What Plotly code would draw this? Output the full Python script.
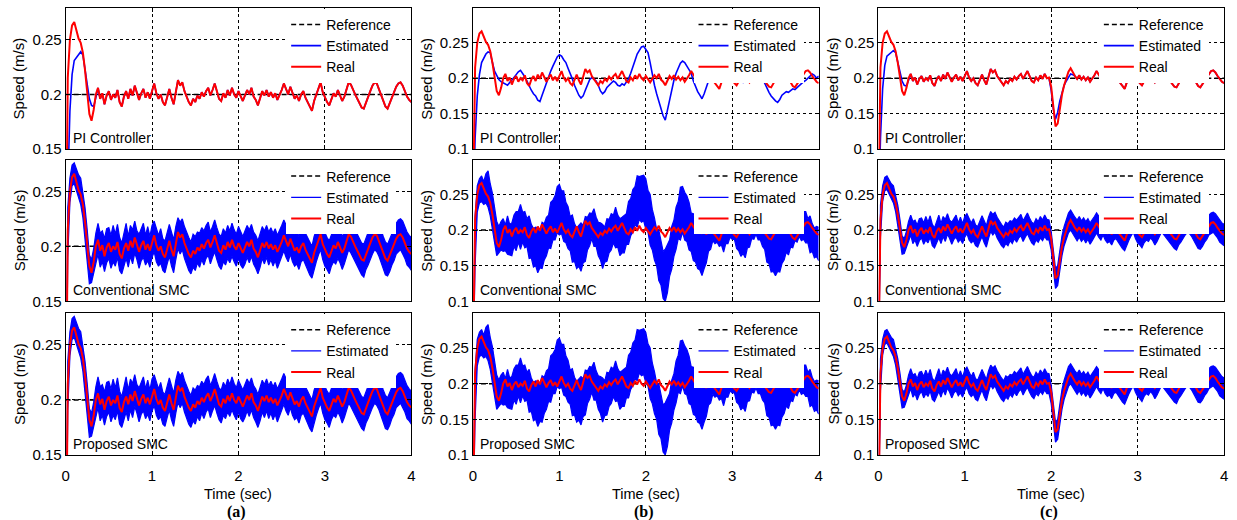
import plotly.graph_objects as go

# ---------------- data ----------------
TIME = [round(0.025 * i, 3) for i in range(161)]
REF_TIME = [0.0, 4.0]
REF_SPEED = [0.2, 0.2]
X_TICKS = [0, 1, 2, 3, 4]
Y_TICKS_A = [0.15, 0.2, 0.25]
Y_LABELS_A = ["0.15", "0.2", "0.25"]
Y_TICKS_BC = [0.1, 0.15, 0.2, 0.25]
Y_LABELS_BC = ["0.1", "0.15", "0.2", "0.25"]
ROW_LABELS = ["PI Controller", "Conventional SMC", "Proposed SMC"]
COL_LABELS = ["(a)", "(b)", "(c)"]
SERIES_NAMES = ["Reference", "Estimated", "Real"]

REAL_SPEED = [
    0.000, 0.215, 0.250, 0.263, 0.266, 0.258, 0.251, 0.247, 0.238, 0.222, 0.203, 0.182, 0.176, 0.186, 0.200,
    0.206, 0.196, 0.201, 0.191, 0.199, 0.203, 0.195, 0.200, 0.197, 0.204,
    0.193, 0.189, 0.198, 0.203, 0.196, 0.205, 0.199, 0.208, 0.202, 0.195,
    0.201, 0.205, 0.197, 0.202, 0.196, 0.204, 0.210, 0.201, 0.196, 0.200,
    0.193, 0.190, 0.198, 0.205, 0.197, 0.191, 0.202, 0.213, 0.208, 0.211,
    0.203, 0.198, 0.193, 0.190, 0.196, 0.193, 0.199, 0.196, 0.202, 0.198,
    0.203, 0.206, 0.199, 0.204, 0.210, 0.203, 0.196, 0.194, 0.201, 0.197,
    0.204, 0.199, 0.206, 0.200, 0.197, 0.203, 0.198, 0.194, 0.199, 0.204,
    0.200, 0.206, 0.198, 0.195, 0.190, 0.196, 0.203, 0.199, 0.204, 0.198,
    0.202, 0.197, 0.201, 0.195, 0.199, 0.204, 0.210, 0.205, 0.200, 0.207,
    0.201, 0.196, 0.199, 0.194, 0.200, 0.203, 0.197, 0.193, 0.188, 0.185,
    0.194, 0.200, 0.207, 0.211, 0.202, 0.197, 0.193, 0.190, 0.196, 0.201,
    0.198, 0.204, 0.199, 0.194, 0.198, 0.205, 0.211, 0.209, 0.204, 0.200,
    0.196, 0.192, 0.188, 0.187, 0.193, 0.198, 0.203, 0.208, 0.211, 0.210,
    0.205, 0.200, 0.194, 0.189, 0.187, 0.192, 0.197, 0.202, 0.207, 0.210,
    0.211, 0.208, 0.203, 0.198, 0.195, 0.193,
]

PI_EST_START = [0.000, 0.115, 0.185, 0.218, 0.231, 0.234, 0.236, 0.239, 0.236, 0.224,
                0.209, 0.196, 0.190, 0.189, 0.197]

B_PI_EST = [
    0.000, 0.115, 0.175, 0.205, 0.222, 0.228, 0.234, 0.237, 0.236, 0.222, 0.210, 0.204, 0.198, 0.195, 0.193,
    0.191, 0.190, 0.194, 0.197, 0.201, 0.205, 0.209, 0.211, 0.207, 0.202,
    0.196, 0.189, 0.183, 0.178, 0.175, 0.169, 0.167, 0.176, 0.185, 0.193,
    0.202, 0.210, 0.217, 0.224, 0.230, 0.233, 0.231, 0.226, 0.222, 0.214,
    0.207, 0.199, 0.190, 0.182, 0.176, 0.172, 0.175, 0.183, 0.191, 0.198,
    0.201, 0.199, 0.196, 0.190, 0.182, 0.178, 0.181, 0.187, 0.190, 0.193,
    0.196, 0.194, 0.190, 0.189, 0.192, 0.190, 0.194, 0.199, 0.207, 0.215,
    0.225, 0.234, 0.240, 0.244, 0.245, 0.241, 0.236, 0.222, 0.205, 0.190,
    0.178, 0.168, 0.158, 0.147, 0.141, 0.155, 0.172, 0.184, 0.197, 0.207,
    0.215, 0.221, 0.224, 0.222, 0.217, 0.212, 0.207, 0.196, 0.188, 0.181,
    0.176, 0.171, 0.178, 0.188, 0.196, 0.204, 0.211, 0.216, 0.219, 0.221,
    0.218, 0.213, 0.209, 0.206, 0.203, 0.204, 0.207, 0.205, 0.200, 0.196,
    0.194, 0.197, 0.201, 0.206, 0.210, 0.213, 0.214, 0.211, 0.206, 0.199,
    0.193, 0.186, 0.180, 0.175, 0.171, 0.168, 0.166, 0.170, 0.176, 0.179,
    0.181, 0.180, 0.183, 0.185, 0.184, 0.187, 0.190, 0.192, 0.195, 0.197,
    0.200, 0.203, 0.206, 0.204, 0.200, 0.203,
]

A_SMC_HI = [
    0.000, 0.235, 0.262, 0.274, 0.276, 0.270, 0.265, 0.262, 0.250, 0.235, 0.215, 0.192, 0.188, 0.198, 0.212,
    0.221, 0.212, 0.214, 0.207, 0.216, 0.217, 0.210, 0.219, 0.211, 0.220,
    0.208, 0.203, 0.213, 0.221, 0.209, 0.219, 0.215, 0.223, 0.214, 0.211,
    0.216, 0.221, 0.210, 0.218, 0.209, 0.219, 0.223, 0.217, 0.210, 0.216,
    0.207, 0.205, 0.212, 0.220, 0.213, 0.206, 0.218, 0.226, 0.222, 0.225,
    0.218, 0.212, 0.208, 0.204, 0.211, 0.209, 0.213, 0.212, 0.217, 0.214,
    0.219, 0.222, 0.213, 0.218, 0.224, 0.217, 0.211, 0.209, 0.216, 0.212,
    0.219, 0.214, 0.221, 0.215, 0.211, 0.218, 0.213, 0.209, 0.214, 0.219,
    0.215, 0.220, 0.213, 0.210, 0.205, 0.211, 0.218, 0.214, 0.219, 0.213,
    0.217, 0.212, 0.216, 0.210, 0.214, 0.219, 0.224, 0.220, 0.215, 0.221,
    0.216, 0.211, 0.214, 0.209, 0.215, 0.218, 0.212, 0.208, 0.203, 0.200,
    0.209, 0.215, 0.221, 0.225, 0.217, 0.212, 0.208, 0.205, 0.211, 0.216,
    0.213, 0.219, 0.214, 0.209, 0.213, 0.220, 0.225, 0.223, 0.219, 0.215,
    0.211, 0.207, 0.203, 0.202, 0.208, 0.213, 0.218, 0.222, 0.225, 0.224,
    0.220, 0.215, 0.209, 0.204, 0.202, 0.207, 0.212, 0.217, 0.221, 0.224,
    0.225, 0.223, 0.218, 0.213, 0.210, 0.208,
]

A_SMC_LO = [
    0.000, 0.190, 0.240, 0.255, 0.257, 0.250, 0.244, 0.238, 0.226, 0.208, 0.188, 0.166, 0.167, 0.176, 0.186,
    0.193, 0.181, 0.186, 0.177, 0.185, 0.189, 0.180, 0.186, 0.182, 0.190,
    0.178, 0.175, 0.183, 0.189, 0.181, 0.191, 0.184, 0.194, 0.188, 0.180,
    0.187, 0.190, 0.183, 0.187, 0.181, 0.190, 0.195, 0.186, 0.182, 0.185,
    0.178, 0.176, 0.184, 0.191, 0.182, 0.176, 0.188, 0.198, 0.193, 0.197,
    0.189, 0.183, 0.178, 0.175, 0.181, 0.178, 0.185, 0.181, 0.188, 0.183,
    0.189, 0.192, 0.184, 0.190, 0.195, 0.188, 0.182, 0.179, 0.186, 0.183,
    0.189, 0.185, 0.191, 0.186, 0.182, 0.189, 0.183, 0.180, 0.184, 0.190,
    0.185, 0.191, 0.184, 0.180, 0.175, 0.181, 0.189, 0.184, 0.190, 0.183,
    0.188, 0.182, 0.187, 0.180, 0.185, 0.190, 0.196, 0.190, 0.186, 0.193,
    0.186, 0.182, 0.184, 0.179, 0.186, 0.188, 0.183, 0.178, 0.174, 0.171,
    0.179, 0.186, 0.192, 0.197, 0.188, 0.182, 0.179, 0.175, 0.182, 0.186,
    0.184, 0.189, 0.185, 0.179, 0.184, 0.190, 0.197, 0.194, 0.190, 0.185,
    0.182, 0.177, 0.174, 0.172, 0.179, 0.183, 0.189, 0.193, 0.197, 0.195,
    0.191, 0.185, 0.180, 0.174, 0.173, 0.177, 0.183, 0.187, 0.193, 0.195,
    0.197, 0.193, 0.189, 0.183, 0.181, 0.178,
]

B_SMC_HI = [
    0.000, 0.220, 0.262, 0.272, 0.276, 0.268, 0.279, 0.283, 0.265, 0.252, 0.232, 0.212, 0.205, 0.212, 0.216,
    0.207, 0.220, 0.208, 0.210, 0.221, 0.226, 0.226, 0.236, 0.225, 0.226,
    0.216, 0.220, 0.208, 0.202, 0.204, 0.203, 0.200, 0.211, 0.209, 0.218,
    0.221, 0.239, 0.242, 0.248, 0.261, 0.264, 0.255, 0.255, 0.239, 0.233,
    0.219, 0.221, 0.209, 0.203, 0.206, 0.210, 0.207, 0.219, 0.218, 0.224,
    0.223, 0.230, 0.218, 0.211, 0.210, 0.208, 0.204, 0.216, 0.215, 0.223,
    0.221, 0.232, 0.221, 0.216, 0.218, 0.221, 0.223, 0.240, 0.244, 0.257,
    0.261, 0.276, 0.275, 0.276, 0.277, 0.272, 0.256, 0.250, 0.229, 0.217,
    0.201, 0.200, 0.182, 0.170, 0.173, 0.180, 0.186, 0.205, 0.214, 0.232,
    0.240, 0.260, 0.261, 0.253, 0.248, 0.239, 0.224, 0.223, 0.209, 0.205,
    0.194, 0.199, 0.196, 0.200, 0.213, 0.220, 0.218, 0.227, 0.218, 0.217,
    0.209, 0.216, 0.213, 0.214, 0.222, 0.225, 0.216, 0.220, 0.211, 0.212,
    0.209, 0.222, 0.221, 0.224, 0.232, 0.236, 0.233, 0.241, 0.232, 0.230,
    0.219, 0.221, 0.207, 0.198, 0.199, 0.199, 0.195, 0.206, 0.204, 0.211,
    0.210, 0.222, 0.218, 0.219, 0.226, 0.230, 0.226, 0.235, 0.226, 0.226,
    0.216, 0.220, 0.209, 0.203, 0.205, 0.204,
]

B_SMC_LO = [
    0.000, 0.150, 0.225, 0.238, 0.240, 0.236, 0.238, 0.232, 0.220, 0.200, 0.180, 0.164, 0.168, 0.172, 0.170,
    0.171, 0.166, 0.165, 0.164, 0.177, 0.171, 0.183, 0.173, 0.183, 0.175,
    0.177, 0.160, 0.161, 0.148, 0.150, 0.140, 0.147, 0.146, 0.158, 0.164,
    0.175, 0.174, 0.186, 0.186, 0.196, 0.193, 0.195, 0.184, 0.182, 0.174,
    0.171, 0.155, 0.156, 0.146, 0.149, 0.142, 0.154, 0.156, 0.172, 0.178,
    0.188, 0.177, 0.177, 0.164, 0.158, 0.146, 0.155, 0.156, 0.168, 0.172,
    0.182, 0.175, 0.176, 0.164, 0.168, 0.168, 0.180, 0.180, 0.192, 0.197,
    0.208, 0.204, 0.215, 0.211, 0.213, 0.201, 0.197, 0.179, 0.172, 0.158,
    0.150, 0.129, 0.123, 0.104, 0.100, 0.112, 0.135, 0.145, 0.163, 0.173,
    0.188, 0.186, 0.197, 0.186, 0.184, 0.172, 0.170, 0.157, 0.155, 0.146,
    0.144, 0.136, 0.146, 0.154, 0.170, 0.173, 0.185, 0.181, 0.183, 0.177,
    0.179, 0.169, 0.181, 0.181, 0.190, 0.187, 0.187, 0.174, 0.171, 0.163,
    0.167, 0.161, 0.175, 0.176, 0.188, 0.187, 0.194, 0.186, 0.186, 0.177,
    0.173, 0.155, 0.153, 0.141, 0.142, 0.136, 0.142, 0.141, 0.153, 0.158,
    0.169, 0.165, 0.176, 0.175, 0.185, 0.183, 0.191, 0.185, 0.187, 0.182,
    0.182, 0.168, 0.170, 0.161, 0.163, 0.157,
]

# column (c): speed dip after the load step at t = 2 s (samples 1.975 .. 2.35 s)
C_DIP_REAL = [0.201, 0.188, 0.160, 0.132, 0.136, 0.158, 0.177, 0.190, 0.200, 0.209, 0.214, 0.208, 0.203, 0.199, 0.204, 0.198]
C_DIP_EST = [0.200, 0.183, 0.156, 0.142, 0.152, 0.168, 0.181, 0.190, 0.196, 0.202, 0.206, 0.205, 0.203, 0.199, 0.204, 0.198]
C_DIP_HI = [0.214, 0.198, 0.172, 0.146, 0.150, 0.172, 0.192, 0.205, 0.214, 0.224, 0.228, 0.222, 0.218, 0.214, 0.219, 0.213]
C_DIP_LO = [0.186, 0.172, 0.146, 0.118, 0.122, 0.146, 0.164, 0.178, 0.188, 0.196, 0.200, 0.195, 0.190, 0.185, 0.190, 0.184]

A_PI_EST = PI_EST_START + REAL_SPEED[15:]
C_REAL = REAL_SPEED[:79] + C_DIP_REAL + REAL_SPEED[95:]
C_PI_EST = PI_EST_START + REAL_SPEED[15:79] + C_DIP_EST + REAL_SPEED[95:]
C_SMC_HI = A_SMC_HI[:79] + C_DIP_HI + A_SMC_HI[95:]
C_SMC_LO = A_SMC_LO[:79] + C_DIP_LO + A_SMC_LO[95:]

for arr in (REAL_SPEED, B_PI_EST, A_SMC_HI, A_SMC_LO, B_SMC_HI, B_SMC_LO,
            A_PI_EST, C_REAL, C_PI_EST, C_SMC_HI, C_SMC_LO):
    assert len(arr) == len(TIME), len(arr)

SMC_ROW = [dict(hi=A_SMC_HI, lo=A_SMC_LO, real=REAL_SPEED),
           dict(hi=B_SMC_HI, lo=B_SMC_LO, real=REAL_SPEED),
           dict(hi=C_SMC_HI, lo=C_SMC_LO, real=C_REAL)]
PANELS = [
    [dict(est=A_PI_EST, real=REAL_SPEED), dict(est=B_PI_EST, real=REAL_SPEED), dict(est=C_PI_EST, real=C_REAL)],
    SMC_ROW,
    SMC_ROW,
]

# ---------------- layout ----------------
W, H = 1237, 520
COL_PX = [(62, 410), (472, 820), (880, 1228)]
ROW_PX = [(8, 151.5), (162, 306), (318, 462)]
Y_RANGES = [(0.15, 0.279), (0.1, 0.299), (0.1, 0.299)]
FONT = 'Arial, "Liberation Sans", Helvetica, sans-serif'
SERIF = '"Times New Roman", "Liberation Serif", serif'
BLUE = "#0000ff"
RED = "#ff0000"

fig = go.Figure()
layout = dict(
    width=W, height=H, margin=dict(l=0, r=0, t=0, b=0),
    paper_bgcolor="white", plot_bgcolor="white", showlegend=True,
    font=dict(family=FONT, size=14, color="black"),
)
annotations = []

for r in range(3):
    for c in range(3):
        k = r * 3 + c + 1
        sfx = "" if k == 1 else str(k)
        xs, ys, lg = "x" + sfx, "y" + sfx, "legend" + sfx
        p = PANELS[r][c]
        common = dict(xaxis=xs, yaxis=ys, legend=lg, mode="lines", hoverinfo="skip")

        fig.add_trace(go.Scatter(x=REF_TIME, y=REF_SPEED, name=SERIES_NAMES[0],
                                 line=dict(color="black", width=1.5, dash="5px,3px"), **common))
        if "est" in p:
            fig.add_trace(go.Scatter(x=TIME, y=p["est"], name=SERIES_NAMES[1],
                                     line=dict(color=BLUE, width=1.6), **common))
        else:
            fig.add_trace(go.Scatter(x=TIME, y=p["lo"], name=SERIES_NAMES[1],
                                     line=dict(color=BLUE, width=1.2), **common))
            fig.add_trace(go.Scatter(x=TIME, y=p["hi"], name=SERIES_NAMES[1], showlegend=False,
                                     fill="tonexty", fillcolor=BLUE,
                                     line=dict(color=BLUE, width=1.2), **common))
        fig.add_trace(go.Scatter(x=TIME, y=p["real"], name=SERIES_NAMES[2],
                                 line=dict(color=RED, width=2), **common))

        x0, x1 = COL_PX[c]
        y0, y1 = ROW_PX[r]
        axis_common = dict(
            ticks="inside", ticklen=4, tickcolor="black", showline=True, linecolor="black",
            linewidth=1, mirror="ticks", showgrid=True, gridcolor="black", griddash="3px,3px",
            gridwidth=0.8, zeroline=False, tickfont=dict(family=FONT, size=15, color="black"),
            fixedrange=True,
        )
        layout["xaxis" + sfx] = dict(domain=[x0 / W, x1 / W], range=[0, 4], anchor=ys,
                                     tickvals=X_TICKS, showticklabels=(r == 2),
                                     ticklabelstandoff=7, **axis_common)
        tv, tt = (Y_TICKS_A, Y_LABELS_A) if c == 0 else (Y_TICKS_BC, Y_LABELS_BC)
        layout["yaxis" + sfx] = dict(domain=[1 - y1 / H, 1 - y0 / H], range=list(Y_RANGES[c]),
                                     anchor=xs, tickvals=tv, ticktext=tt, **axis_common)
        layout[lg] = dict(x=(x0 + 222) / W, y=1 - (y0 + 1) / H, xanchor="left", yanchor="top",
                          bgcolor="white", borderwidth=0, tracegroupgap=0, traceorder="normal",
                          font=dict(family=FONT, size=14, color="black"))

        annotations.append(dict(text=ROW_LABELS[r], xref=xs + " domain", yref=ys + " domain",
                                x=0, y=0, xanchor="left", yanchor="bottom", xshift=5, yshift=1,
                                showarrow=False, font=dict(family=FONT, size=14, color="black")))
        annotations.append(dict(text="Speed (m/s)", xref="paper", yref="paper",
                                x=[15, 425, 834][c] / W, y=1 - (y0 + y1) / 2 / H,
                                xanchor="center", yanchor="middle",
                                textangle=-90, showarrow=False,
                                font=dict(family=FONT, size=15, color="black")))

for c in range(3):
    x0, x1 = COL_PX[c]
    annotations.append(dict(text="Time (sec)", xref="paper", yref="paper",
                            x=(x0 + x1) / 2 / W, y=1 - 502 / H, xanchor="center", yanchor="middle",
                            showarrow=False, font=dict(family=FONT, size=14.5, color="black")))
    annotations.append(dict(text="<b>" + COL_LABELS[c] + "</b>", xref="paper", yref="paper",
                            x=((x0 + x1) / 2 - 2) / W, y=0, xanchor="center", yanchor="middle",
                            showarrow=False, font=dict(family=SERIF, size=16, color="black")))

layout["annotations"] = annotations
fig.update_layout(**layout)
fig.write_html("out.html", config={"displayModeBar": False},
               post_script="document.body.style.margin='0';")
